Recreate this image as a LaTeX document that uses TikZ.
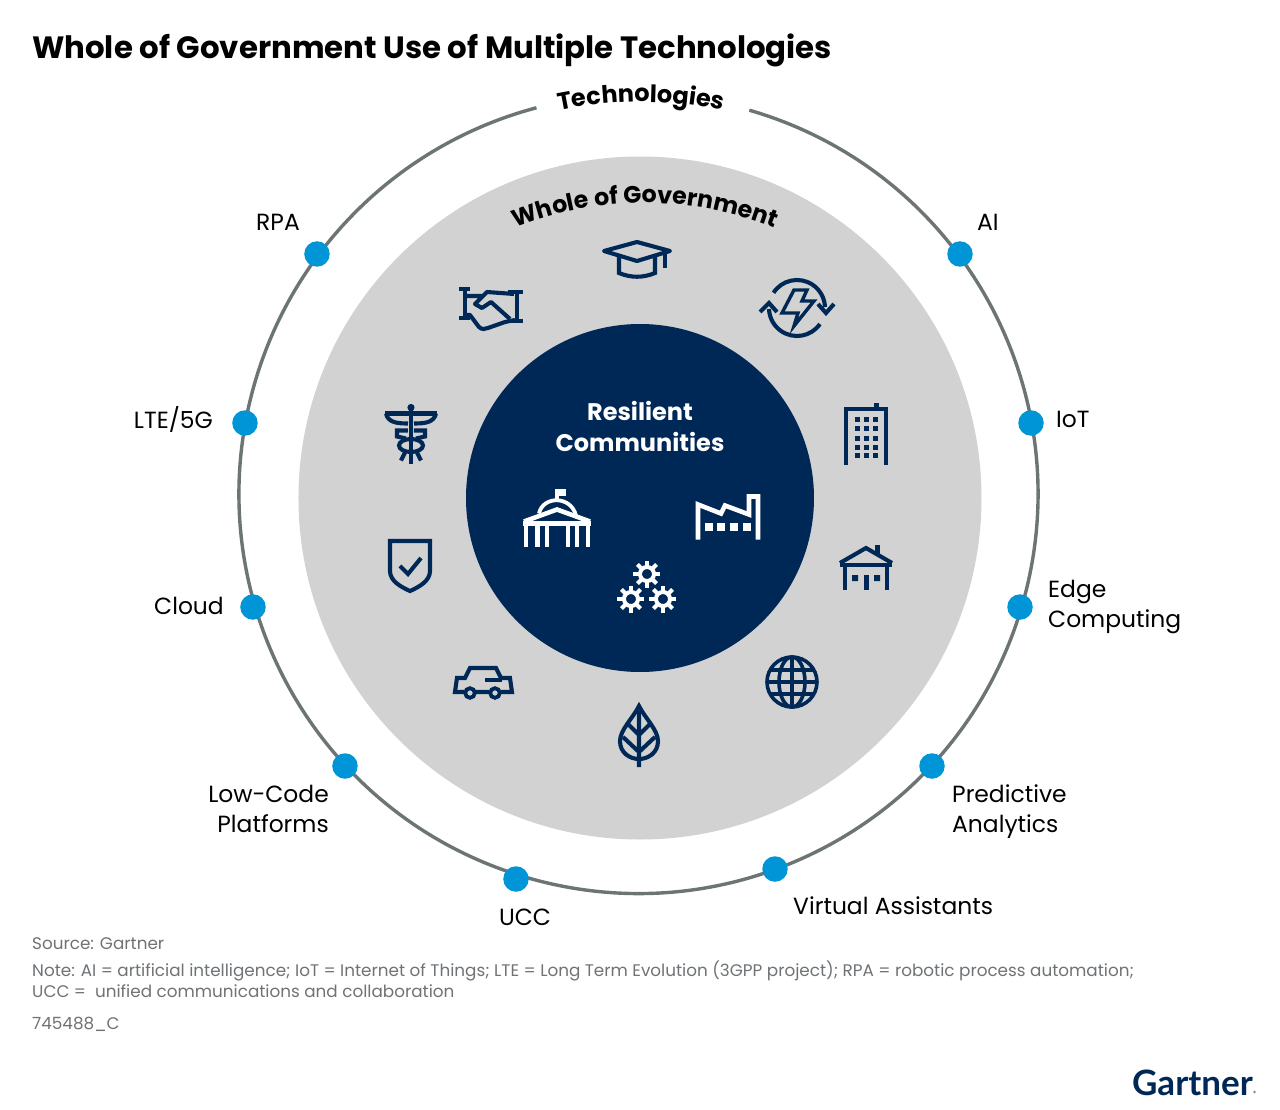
\documentclass[tikz,border=0pt]{standalone}
\usepackage{fontspec}
\setmainfont{Poppins}
\newfontfamily\logofont{Lato}
\usetikzlibrary{decorations.text}
\definecolor{navy}{HTML}{002856}
\definecolor{discgray}{HTML}{D2D2D2}
\definecolor{ringgray}{HTML}{6C7574}
\definecolor{dotblue}{HTML}{0095D6}
\definecolor{notegray}{HTML}{6F7376}
\tikzset{
  techdot/.style={circle,fill=dotblue,minimum size=25.5pt,inner sep=0pt},
  techlabel/.style={inner sep=0pt,align=left,font=\fontsize{23.4}{30}\selectfont},
  notetext/.style={inner sep=0pt,align=left,text=notegray,font=\fontsize{16.8}{21}\selectfont},
  navyline/.style={draw=navy,line width=4.1pt,line join=miter},
  whiteline/.style={draw=white,line width=4.6pt,line join=miter},
  % one pic per icon, drawn around its own middle
  capicon/.pic={
    \draw[navyline,line join=round] (-33,5)--(0,14)--(33,5)--(0,-5)--cycle;
    \draw[navyline] (-18,-1)--(-18,-17) .. controls (-6,-22) and (6,-22) .. (18,-17)--(18,-1);
    \draw[navyline] (28,5)--(28,-12);
  },
  handicon/.pic={
    \draw[navyline] (-32,18)--(-21,18) (-26,18)--(-26,-11) (-32,-11)--(-21,-11);
    \draw[navyline] (17,15)--(32,15) (26,15)--(26,-14) (17,-14)--(32,-14);
    \draw[navyline,line join=round] (-26,11)--(-9,11) (23,13)--(-4,15)--(-16,3)--(-9,-1)--(0,5)--(19,-12);
    \draw[navyline,line join=round] (-26,-8)--(-21,-8)--(-12,-20) .. controls (-9,-23) and (-6,-22) .. (-3,-21)--(14,-15)--(24,-13);
  },
  energyicon/.pic={
    \draw[navyline] (147:28) arc[start angle=147,end angle=2,radius=28];
    \draw[navyline] (-35:28) arc[start angle=-35,end angle=-178,radius=28];
    \draw[navyline] (21,4)--(29,-5)--(37,4);
    \draw[navyline] (-37,-4)--(-28,5)--(-20,-4);
    \draw[navyline,line width=3.4pt] (-3,18)--(10,18)--(5,7)--(17,7)--(-3,-18)--(1,-5)--(-15,-5)--cycle;
  },
  towericon/.pic={
    \draw[navyline] (-20,-29)--(-20,27)--(20,27)--(20,-29);
    \fill[navy] (8,27) rectangle (13,33);
    \foreach \wy in {16.5,7.5,-2,-11,-19.6}
      \foreach \wx in {-9,0,9}
        \fill[navy] (\wx-2.5,\wy-2.5) rectangle (\wx+2.5,\wy+2.5);
  },
  houseicon/.pic={
    \draw[navyline] (-26,5)--(0,20)--(26,5);
    \draw[navyline] (-26,3)--(26,3) (-21,3)--(-21,-22) (21,3)--(21,-22);
    \fill[navy] (9,14) rectangle (14,23);
    \fill[navy] (-2.5,-22) rectangle (2.5,-7);
    \fill[navy] (-14,-13) rectangle (-8,-7) (8,-13) rectangle (14,-7);
  },
  globeicon/.pic={
    \draw[navyline,line width=3.6pt] (0,0) circle[radius=25];
    \draw[navyline,line width=3.6pt] (0,0) ellipse[x radius=13,y radius=25];
    \draw[navyline,line width=3.6pt] (0,25)--(0,-25) (-25,0)--(25,0) (-22,12)--(22,12) (-22,-12)--(22,-12);
  },
  leaficon/.pic={
    \draw[navyline] (0,30) .. controls (-6,18) and (-19,6) .. (-19,-5) .. controls (-19,-17) and (-9,-23) .. (0,-23) .. controls (9,-23) and (19,-17) .. (19,-5) .. controls (19,6) and (6,18) .. (0,30)--cycle;
    \draw[navyline] (0,25)--(0,-31) (-11,12)--(0,1)--(11,12) (-16,-1)--(0,-16)--(16,-1);
  },
  caricon/.pic={
    \draw[navyline] (-8,-10)--(6,-10) (18,-10)--(29,-10)--(27,4)--(18,4)--(13,14)--(-13,14)--(-18,4)--(-26,4)--(-28,-10)--(-19,-10);
    \draw[navyline] (2,2)--(19,2);
    \draw[navyline,line width=3.8pt] (-13,-11) circle[radius=4.8] (12,-11) circle[radius=4.8];
  },
  shieldicon/.pic={
    \draw[navyline] (-20,25)--(20,25)--(20,-5) .. controls (20,-15) and (9,-21) .. (0,-25) .. controls (-9,-21) and (-20,-15) .. (-20,-5)--cycle;
    \draw[navyline] (-10,0)--(-2,-8)--(11,8);
  },
  caduceusicon/.pic={
    \draw[navyline] (0,26)--(0,-30);
    \fill[navy] (0,26) circle[radius=3.6];
    \draw[navyline] (-26,20)--(26,20);
    \draw[navyline] (-25,20) .. controls (-23,11) and (-14,10) .. (-3,10) (25,20) .. controls (23,11) and (14,10) .. (3,10);
    \draw[navyline] (-3,3)--(-14,3)--(-14,-3)--(-5,-5) (3,3)--(14,3)--(14,-3)--(5,-5);
    \draw[navyline] (0,-12) ellipse[x radius=12,y radius=6.5];
    \draw[navyline] (-6,-19)--(-10,-27) (6,-19)--(10,-27);
  },
  capitolicon/.pic={
    \draw[whiteline] (-33,-4)--(0,8)--(33,-4);
    \draw[whiteline] (-34,-6)--(34,-6);
    \foreach \cx in {-31,-19.5,-10,11,20,31}
      \draw[whiteline] (\cx,-6)--(\cx,-29);
    \draw[whiteline,line width=3.8pt] (-18,4) .. controls (-14,22) and (14,22) .. (19,2);
    \draw[whiteline,line width=3.8pt] (0,16)--(0,26);
    \fill[white] (-2,22) rectangle (9.5,29);
  },
  factoryicon/.pic={
    \draw[whiteline] (-30,-22)--(-30,13)--(-7,4)--(-3,12)--(21,3)--(21,21)--(30,21)--(30,-22);
    \foreach \wx in {-18.6,-6.5,6,19}
      \fill[white] (\wx-4,-13) rectangle (\wx+4,-5);
  },
  gearicon/.pic={
    \draw[draw=white,line width=4pt] (0,0) circle[radius=7];
    \foreach \ga in {0,45,...,315}
      \draw[draw=white,line width=4pt] (\ga:8)--(\ga:13.5);
  },
}
\begin{document}
\begin{tikzpicture}[x=1pt,y=1pt]
\useasboundingbox (-640,-611) rectangle (640,498);
\fill[white] (-640,-611) rectangle (640,498);
\node[inner sep=0pt,anchor=base west,font=\fontsize{30.8}{36}\selectfont\bfseries] (title) at (-608,439.5) {Whole of Government Use of Multiple Technologies};
% outer ring, left open for its title
\coordinate (ringcentre) at (-1.5,4);
\draw[ringgray,line width=3.4pt] (ringcentre) ++(73.9:399.5) arc[start angle=73.9,end angle=-255.2,radius=399.5];
\fill[discgray] (0,0) circle[radius=341.5];
\fill[navy] (0,0) circle[radius=174];
\path[decorate,decoration={text along path,text align=center,text={|\fontsize{24}{30}\selectfont\bfseries|Technologies}}] (1,-4) ++(105:400) arc[start angle=105,end angle=75,radius=400];
\path[decorate,decoration={text along path,text align=center,text={|\fontsize{23.7}{30}\selectfont\bfseries|Whole of Government}}] (5,-55) ++(115:350) arc[start angle=115,end angle=65,radius=350];
\node[text=white,inner sep=0pt,align=center,font=\fontsize{24}{30.5}\selectfont\bfseries] (centre) at (0,71.5) {Resilient\\Communities};
% technology dots
\node[techdot] (rpa) at (-323,244) {};
\node[techdot] (ai) at (320,244) {};
\node[techdot] (iot) at (391,75) {};
\node[techdot] (lte) at (-395,75) {};
\node[techdot] (cloud) at (-387,-109) {};
\node[techdot] (edge) at (380,-109) {};
\node[techdot] (lowcode) at (-295,-268) {};
\node[techdot] (predictive) at (292,-268) {};
\node[techdot] (ucc) at (-124,-381) {};
\node[techdot] (assistants) at (135,-371) {};
\node[techlabel,anchor=east] (rpalabel) at (-340,276) {RPA};
\node[techlabel,anchor=west] (ailabel) at (337,276) {AI};
\node[techlabel,anchor=west] (iotlabel) at (416,78.5) {IoT};
\node[techlabel,anchor=east] (ltelabel) at (-427,78.5) {LTE/5G};
\node[techlabel,anchor=east] (cloudlabel) at (-416,-108) {Cloud};
\node[techlabel,anchor=west] (edgelabel) at (408,-109) {Edge\\Computing};
\node[techlabel,anchor=east,align=right] (lowcodelabel) at (-311,-311) {Low-Code\\Platforms};
\node[techlabel,anchor=west] (predictivelabel) at (312,-313.5) {Predictive\\Analytics};
\node[techlabel,anchor=north] (ucclabel) at (-115,-411) {UCC};
\node[techlabel,anchor=west] (assistantslabel) at (153,-408) {Virtual Assistants};
% icons
\pic (cap) at (-3,242) {capicon};
\pic (hand) at (-149,191) {handicon};
\pic (energy) at (157,190) {energyicon};
\pic (tower) at (226,62) {towericon};
\pic (house) at (226,-70) {houseicon};
\pic (globe) at (152,-184) {globeicon};
\pic (leaf) at (-1,-238) {leaficon};
\pic (car) at (-157,-184) {caricon};
\pic (shield) at (-230,-68) {shieldicon};
\pic (caduceus) at (-229,64.5) {caduceusicon};
\pic (capitol) at (-83,-19.5) {capitolicon};
\pic (factory) at (88,-19.5) {factoryicon};
\pic (geartop) at (7,-76) {gearicon};
\pic (gearleft) at (-9,-101) {gearicon};
\pic (gearright) at (23,-101) {gearicon};
% footer
\node[notetext,anchor=base west] (source) at (-608,-451) {Source: Gartner};
\node[notetext,anchor=north west] (note) at (-608,-463) {Note: AI = artificial intelligence; IoT = Internet of Things; LTE = Long Term Evolution (3GPP project); RPA = robotic process automation;\\UCC =\ \ unified communications and collaboration};
\node[notetext,anchor=base west] (jobcode) at (-608,-531) {745488\_C};
\node[inner sep=0pt,anchor=base east,text=navy,font=\logofont\fontsize{35}{36}\selectfont\bfseries] (gartner) at (613,-597) {Gartner};
\node[inner sep=0pt,anchor=base west,text=navy,font=\fontsize{6}{6}\selectfont] (registered) at (613,-597) {®};
\end{tikzpicture}
\end{document}
